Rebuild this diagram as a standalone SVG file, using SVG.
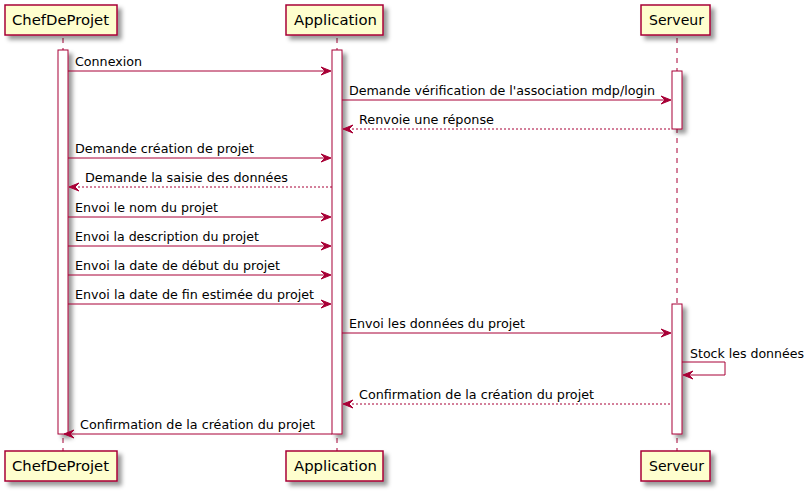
<svg xmlns="http://www.w3.org/2000/svg" width="812" height="494" viewBox="0 0 812 494">
<defs>
<filter id="sh" x="-1" y="-1" width="300%" height="300%">
<feGaussianBlur result="b" stdDeviation="2"/>
<feColorMatrix in="b" result="c" type="matrix" values="0 0 0 0 0 0 0 0 0 0 0 0 0 0 0 0 0 0 .4 0"/>
<feOffset dx="4" dy="4" in="c" result="o"/>
<feBlend in="SourceGraphic" in2="o" mode="normal"/>
</filter>
<style>
.life{stroke:#A80036;stroke-width:1;stroke-dasharray:5,5;fill:none}
.act{fill:#FFFFFF;stroke:#A80036;stroke-width:1}
.part{fill:#FEFECE;stroke:#A80036;stroke-width:1.5}
.pt{font-family:"DejaVu Sans",sans-serif;font-size:14.5px;fill:#000}
.msg{stroke:#A80036;stroke-width:1;fill:none}
.dash{stroke-dasharray:2,2}
.ah{fill:#A80036;stroke:#A80036;stroke-width:1}
.mt{font-family:"DejaVu Sans",sans-serif;font-size:13px;fill:#000}
</style>
</defs>
<g id="lifelines">
<line class="life" x1="63" y1="38" x2="63" y2="451"/>
<line class="life" x1="337" y1="38" x2="337" y2="451"/>
<line class="life" x1="677" y1="38" x2="677" y2="451"/>
</g>
<g id="activations">
<rect class="act" filter="url(#sh)" x="58" y="50" width="10" height="384"/>
<rect class="act" filter="url(#sh)" x="332" y="50" width="10" height="384"/>
<rect class="act" filter="url(#sh)" x="672" y="71" width="10" height="58"/>
<rect class="act" filter="url(#sh)" x="672" y="304" width="10" height="130"/>
</g>
<g id="ChefDeProjet">
<rect class="part" filter="url(#sh)" x="5" y="5" width="112" height="30"/>
<text class="pt" x="12" y="25" textLength="97" lengthAdjust="spacingAndGlyphs">ChefDeProjet</text>
<rect class="part" filter="url(#sh)" x="5" y="451" width="112" height="30"/>
<text class="pt" x="12" y="471" textLength="97" lengthAdjust="spacingAndGlyphs">ChefDeProjet</text>
</g>
<g id="Application">
<rect class="part" filter="url(#sh)" x="286" y="5" width="97" height="30"/>
<text class="pt" x="294" y="25" textLength="83" lengthAdjust="spacingAndGlyphs">Application</text>
<rect class="part" filter="url(#sh)" x="286" y="451" width="97" height="30"/>
<text class="pt" x="294" y="471" textLength="83" lengthAdjust="spacingAndGlyphs">Application</text>
</g>
<g id="Serveur">
<rect class="part" filter="url(#sh)" x="641" y="5" width="69" height="30"/>
<text class="pt" x="649" y="25" textLength="55" lengthAdjust="spacingAndGlyphs">Serveur</text>
<rect class="part" filter="url(#sh)" x="641" y="451" width="69" height="30"/>
<text class="pt" x="649" y="471" textLength="55" lengthAdjust="spacingAndGlyphs">Serveur</text>
</g>
<g id="connectors">
<line class="msg" x1="68" y1="71" x2="330" y2="71"/>
<polygon class="ah" points="331,71 321,67 325,71 321,75"/>
<text class="mt" x="75" y="66" textLength="67" lengthAdjust="spacingAndGlyphs">Connexion</text>

<line class="msg" x1="342" y1="100" x2="670" y2="100"/>
<polygon class="ah" points="671,100 661,96 665,100 661,104"/>
<text class="mt" x="349" y="95" textLength="306" lengthAdjust="spacingAndGlyphs">Demande vérification de l'association mdp/login</text>

<line class="msg dash" x1="344" y1="129" x2="672" y2="129"/>
<polygon class="ah" points="343,129 353,125 349,129 353,133"/>
<text class="mt" x="359" y="124" textLength="135" lengthAdjust="spacingAndGlyphs">Renvoie une réponse</text>

<line class="msg" x1="68" y1="158" x2="330" y2="158"/>
<polygon class="ah" points="331,158 321,154 325,158 321,162"/>
<text class="mt" x="75" y="153" textLength="179" lengthAdjust="spacingAndGlyphs">Demande création de projet</text>

<line class="msg dash" x1="70" y1="187" x2="332" y2="187"/>
<polygon class="ah" points="69,187 79,183 75,187 79,191"/>
<text class="mt" x="85" y="182" textLength="203" lengthAdjust="spacingAndGlyphs">Demande la saisie des données</text>

<line class="msg" x1="68" y1="217" x2="330" y2="217"/>
<polygon class="ah" points="331,217 321,213 325,217 321,221"/>
<text class="mt" x="75" y="212" textLength="143" lengthAdjust="spacingAndGlyphs">Envoi le nom du projet</text>

<line class="msg" x1="68" y1="246" x2="330" y2="246"/>
<polygon class="ah" points="331,246 321,242 325,246 321,250"/>
<text class="mt" x="75" y="241" textLength="184" lengthAdjust="spacingAndGlyphs">Envoi la description du projet</text>

<line class="msg" x1="68" y1="275" x2="330" y2="275"/>
<polygon class="ah" points="331,275 321,271 325,275 321,279"/>
<text class="mt" x="75" y="270" textLength="205" lengthAdjust="spacingAndGlyphs">Envoi la date de début du projet</text>

<line class="msg" x1="68" y1="304" x2="330" y2="304"/>
<polygon class="ah" points="331,304 321,300 325,304 321,308"/>
<text class="mt" x="75" y="299" textLength="239" lengthAdjust="spacingAndGlyphs">Envoi la date de fin estimée du projet</text>

<line class="msg" x1="342" y1="333" x2="670" y2="333"/>
<polygon class="ah" points="671,333 661,329 665,333 661,337"/>
<text class="mt" x="349" y="328" textLength="176" lengthAdjust="spacingAndGlyphs">Envoi les données du projet</text>

<polyline class="msg" points="682,362 725,362 725,375 684,375"/>
<polygon class="ah" points="683,375 693,371 689,375 693,379"/>
<text class="mt" x="690" y="358" textLength="114" lengthAdjust="spacingAndGlyphs">Stock les données</text>

<line class="msg dash" x1="344" y1="404" x2="672" y2="404"/>
<polygon class="ah" points="343,404 353,400 349,404 353,408"/>
<text class="mt" x="359" y="399" textLength="235" lengthAdjust="spacingAndGlyphs">Confirmation de la création du projet</text>

<line class="msg" x1="66" y1="434" x2="332" y2="434"/>
<polygon class="ah" points="64,434 74,430 70,434 74,438"/>
<text class="mt" x="80" y="429" textLength="235" lengthAdjust="spacingAndGlyphs">Confirmation de la création du projet</text>
</g>
</svg>
